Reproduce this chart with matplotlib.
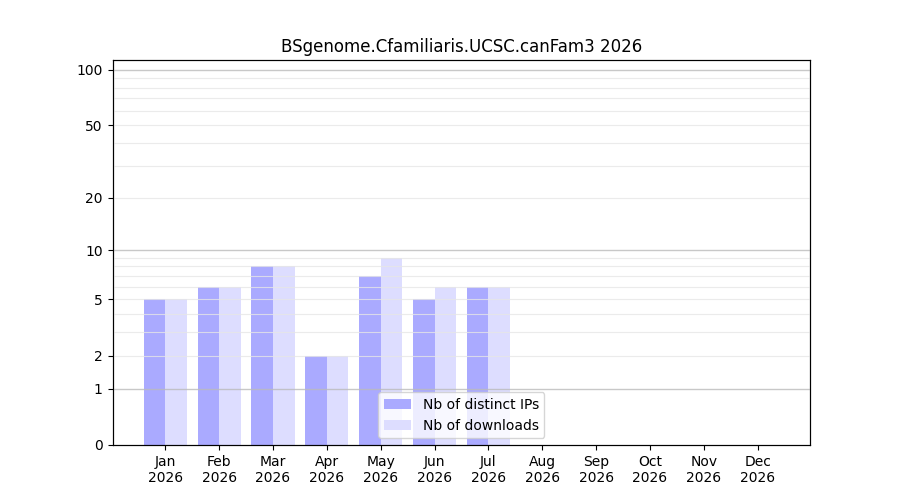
import numpy as np
import matplotlib
matplotlib.use("Agg")
import matplotlib.pyplot as plt
from matplotlib.ticker import FixedLocator

months = ["Jan", "Feb", "Mar", "Apr", "May", "Jun", "Jul", "Aug", "Sep", "Oct", "Nov", "Dec"]
year = "2026"
distinct_ips = [5, 6, 8, 2, 7, 5, 6, 0, 0, 0, 0, 0]
downloads = [5, 6, 8, 2, 9, 6, 6, 0, 0, 0, 0, 0]
y_ticks = [0, 1, 2, 5, 10, 20, 50, 100]
major_grid = [1, 10, 100]
minor_grid = [2, 3, 4, 5, 6, 7, 8, 9, 20, 30, 40, 50, 60, 70, 80, 90]


def fwd(v):
    return np.log10(1 + np.clip(v, 0, None))


def inv(v):
    return 10 ** v - 1


fig, ax = plt.subplots(figsize=(9, 5), dpi=100)
x = np.arange(len(months))
w = 0.4

ax.bar(x - w / 2, distinct_ips, w, color="#aaaaff", label="Nb of distinct IPs")
ax.bar(x + w / 2, downloads, w, color="#ddddff", label="Nb of downloads")

ax.set_yscale("function", functions=(fwd, inv))
ax.set_ylim(0, 113)
ax.set_xlim(-0.98, 11.97)

ax.set_yticks(y_ticks)
ax.set_yticklabels([str(t) for t in y_ticks])

ax.set_xticks(x)
ax.set_xticklabels([f"{m}\n{year}" for m in months])
ax.set_title("BSgenome.Cfamiliaris.UCSC.canFam3 2026")
ax.legend(loc="lower center")

# grid on a twin axis drawn on top of the bars
gax = ax.twinx()
gax.set_yscale("function", functions=(fwd, inv))
gax.set_ylim(ax.get_ylim())
gax.yaxis.set_major_locator(FixedLocator(major_grid))
gax.yaxis.set_minor_locator(FixedLocator(minor_grid))
gax.tick_params(axis="y", which="both", length=0, labelright=False)
gax.grid(True, which="major", axis="y", color="#bbbbbb", lw=1, alpha=0.8)
gax.grid(True, which="minor", axis="y", color="#e6e6e6", lw=0.8, alpha=0.8)

fig.savefig("out.png")
